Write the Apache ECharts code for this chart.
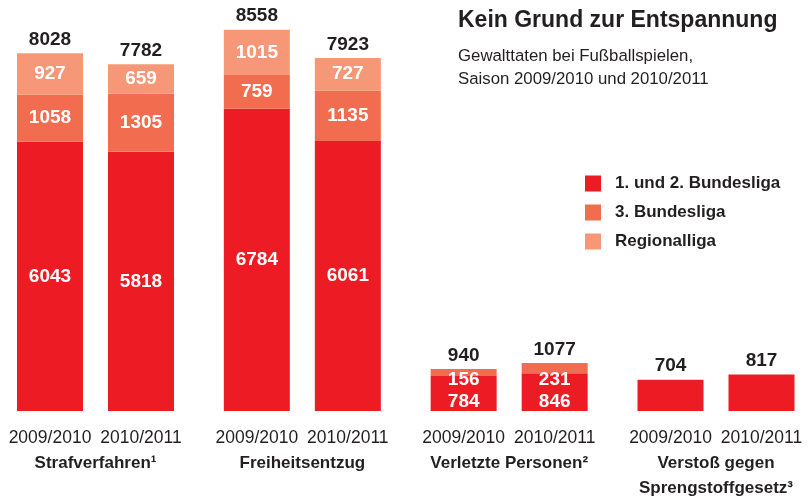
<!DOCTYPE html>
<html>
<head>
<meta charset="utf-8">
<script src="https://cdn.jsdelivr.net/npm/echarts@6/dist/echarts.min.js"></script>
<style>html,body{margin:0;padding:0;background:#fff}#c{width:810px;height:499px}</style>
</head>
<body>
<div id="c"></div>
<script>
const categories = ['Strafverfahren¹', 'Freiheitsentzug', 'Verletzte Personen²', 'Verstoß gegen\nSprengstoffgesetz³'];
const seasons = ['2009/2010', '2010/2011'];
const legendNames = ['1. und 2. Bundesliga', '3. Bundesliga', 'Regionalliga'];
const liga12_0910 = [6043, 6784, 784, 704];
const liga3_0910 = [1058, 759, 156, null];
const regio_0910 = [927, 1015, null, null];
const liga12_1011 = [5818, 6061, 846, 817];
const liga3_1011 = [1305, 1135, 231, null];
const regio_1011 = [659, 727, null, null];
const total_0910 = [8028, 8558, 940, 704];
const total_1011 = [7782, 7923, 1077, 817];

const colors = ['#ed1c24', '#f26d50', '#f69878'];
const dark = '#231f20';
const font = "'Liberation Sans', Arial, sans-serif";

// special label placement for the small "Verletzte Personen" bars
const specialOffsets = {
  y1: { red: [0, 8.5], orange: [0, 7.5] },
  y2: { red: [0, 10], orange: [0, 11.5] }
};

function mkData(arr, stack, kind) {
  return arr.map((v, i) => {
    const item = { value: v == null ? '-' : v };
    if (i === 2 && specialOffsets[stack][kind]) {
      item.label = { offset: specialOffsets[stack][kind] };
    }
    if (i === 3 && kind === 'red') {
      item.label = { show: false };
    }
    return item;
  });
}

const insideLabel = {
  show: true, position: 'inside', color: '#fff', fontWeight: 'bold',
  fontSize: 19, fontFamily: font,
  formatter: p => (p.value === '-' || p.value == null) ? '' : String(p.value)
};

function segSeries(name, arr, stack, kind, color) {
  return {
    name: name, type: 'bar', stack: stack, barWidth: 66, barGap: '37.9%',
    itemStyle: { color: color },
    label: insideLabel,
    emphasis: { disabled: true },
    data: mkData(arr, stack, kind)
  };
}
function totalSeries(totals, stack) {
  return {
    type: 'bar', stack: stack, barWidth: 66, barGap: '37.9%',
    itemStyle: { color: 'transparent' },
    label: {
      show: true, position: 'top', distance: 4, color: dark, fontWeight: 'bold',
      fontSize: 19, fontFamily: font,
      formatter: p => String(totals[p.dataIndex])
    },
    emphasis: { disabled: true },
    data: totals.map(() => 0)
  };
}

const chart = echarts.init(document.getElementById('c'), null, { renderer: 'canvas' });
chart.setOption({
  animation: false,
  backgroundColor: '#fff',
  title: {
    text: 'Kein Grund zur Entspannung',
    subtext: 'Gewalttaten bei Fußballspielen,\nSaison 2009/2010 und 2010/2011',
    left: 458, top: 9, itemGap: 13, padding: 0,
    textStyle: { color: dark, fontSize: 23, fontWeight: 'bold', fontFamily: font },
    subtextStyle: { color: dark, fontSize: 16.8, lineHeight: 23, fontFamily: font }
  },
  legend: {
    data: legendNames,
    orient: 'vertical', left: 585, top: 175, padding: 0,
    itemWidth: 16, itemHeight: 16, itemGap: 12,
    icon: 'rect',
    textStyle: { color: dark, fontWeight: 'bold', fontSize: 17, fontFamily: font, padding: [0, 0, 0, 9] },
    selectedMode: false
  },
  grid: { left: 95.5, right: 89, top: 10, bottom: 88 },
  xAxis: {
    type: 'category', data: categories, boundaryGap: false,
    axisLine: { show: false }, axisTick: { show: false },
    axisLabel: {
      interval: 0, margin: 14, color: dark,
      formatter: v => '{y|' + seasons[0] + '}{y|' + seasons[1] + '}\n' +
        v.split('\n').map(s => '{n|' + s + '}').join('\n'),
      rich: {
        y: { width: 91, align: 'center', fontSize: 17.5, lineHeight: 26, color: dark, fontFamily: font },
        n: { fontSize: 17, fontWeight: 'bold', lineHeight: 25, color: dark, fontFamily: font }
      }
    }
  },
  yAxis: { type: 'value', min: 0, max: 9000, show: false, splitLine: { show: false } },
  series: [
    segSeries(legendNames[0], liga12_0910, 'y1', 'red', colors[0]),
    segSeries(legendNames[1], liga3_0910, 'y1', 'orange', colors[1]),
    segSeries(legendNames[2], regio_0910, 'y1', 'salmon', colors[2]),
    totalSeries(total_0910, 'y1'),
    segSeries(legendNames[0], liga12_1011, 'y2', 'red', colors[0]),
    segSeries(legendNames[1], liga3_1011, 'y2', 'orange', colors[1]),
    segSeries(legendNames[2], regio_1011, 'y2', 'salmon', colors[2]),
    totalSeries(total_1011, 'y2')
  ]
});
</script>
</body>
</html>
